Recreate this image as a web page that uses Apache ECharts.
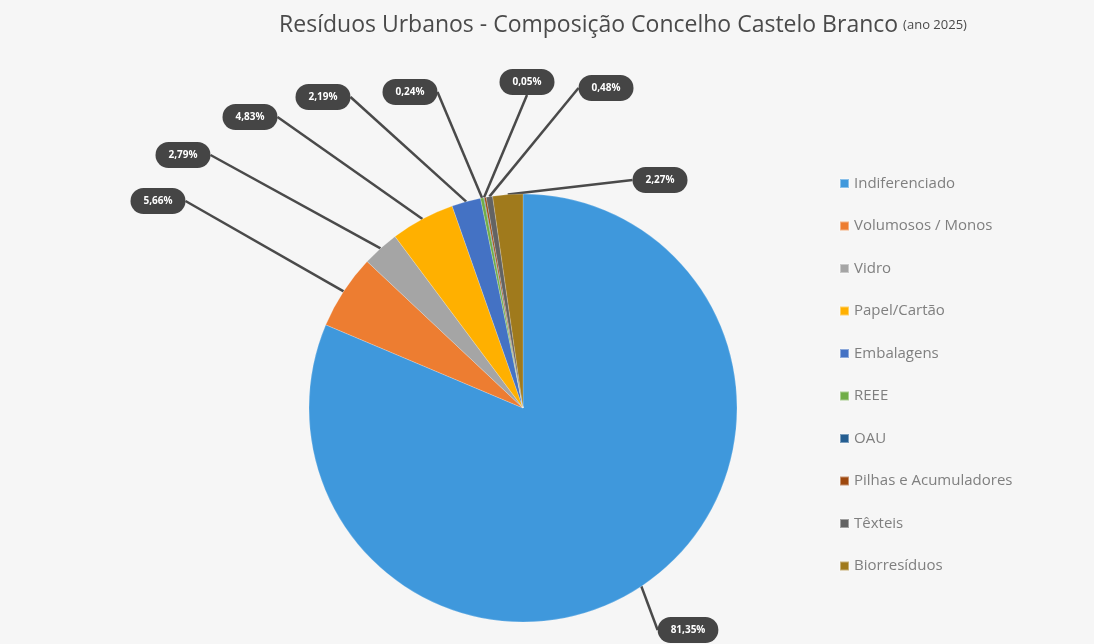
<!DOCTYPE html>
<html>
<head>
<meta charset="utf-8">
<script src="https://cdn.jsdelivr.net/npm/echarts@6/dist/echarts.min.js"></script>
<style>
  html, body { margin: 0; padding: 0; background: #f3f3f3; }
  #chart { width: 1094px; height: 644px; }
</style>
</head>
<body>
<div id="chart"></div>
<script>
// categorias e percentagens (ano 2025)
const categorias = ['Indiferenciado', 'Volumosos / Monos', 'Vidro', 'Papel/Cartão', 'Embalagens', 'REEE', 'OAU', 'Pilhas e Acumuladores', 'Têxteis', 'Biorresíduos']
const percentagens = [81.35, 5.66, 2.79, 4.83, 2.19, 0.24, 0.05, 0.14, 0.48, 2.27]
const mostrarEtiqueta = [true, true, true, true, true, true, true, false, true, true]
const cores = ['#3f98dc', '#ed7d31', '#a5a5a5', '#ffb000', '#4472c4', '#70ad47', '#255e91', '#9e480e', '#636363', '#a07a1c']

// posição das etiquetas (callouts colocados à mão no original)
const posEtiquetas = [[688, 630], [158, 201], [183, 155], [250, 117], [323, 97], [410, 92], [527, 82], [560, 80], [606, 88], [660, 180]]

const myChart = echarts.init(document.getElementById('chart'))

const dados = categorias.map(function (nome, i) {
  return {
    name: nome,
    value: percentagens[i],
    label: { show: mostrarEtiqueta[i] },
    labelLine: { show: mostrarEtiqueta[i] }
  }
})

const option = {
  backgroundColor: '#f6f6f6',
  color: cores,
  title: {
    text: '{t|Resíduos Urbanos - Composição Concelho Castelo Branco} {s|(ano 2025)}',
    left: 618,
    top: 9,
    textAlign: 'center',
    textStyle: {
      fontWeight: 'normal',
      rich: {
        t: { fontFamily: 'Open Sans', fontSize: 23, fontWeight: 'normal', color: '#4a4a4a' },
        s: { fontFamily: 'Open Sans', fontSize: 13, fontWeight: 'normal', color: '#4a4a4a' }
      }
    }
  },
  legend: {
    orient: 'vertical',
    left: 834,
    top: 171,
    itemWidth: 9,
    itemHeight: 9,
    itemGap: 27.5,
    icon: 'rect',
    textStyle: { fontFamily: 'Open Sans', fontSize: 15, color: '#7f7f7f' },
    data: categorias
  },
  series: [
    {
      type: 'pie',
      center: [523, 408],
      radius: 214,
      startAngle: 90,
      clockwise: true,
      avoidLabelOverlap: false,
      itemStyle: { borderColor: 'rgba(255,255,255,0.4)', borderWidth: 0.5 },
      label: {
        show: true,
        formatter: function (p) {
          return p.value.toFixed(2).replace('.', ',') + '%'
        },
        color: '#ffffff',
        fontFamily: 'Open Sans',
        fontSize: 10,
        fontWeight: 'bold',
        backgroundColor: '#454545',
        padding: [8, 13],
        borderRadius: 15
      },
      labelLine: {
        show: true,
        length: 10,
        length2: 0,
        lineStyle: { color: '#4a4a4a', width: 2.5 }
      },
      labelLayout: function (params) {
        const p = posEtiquetas[params.dataIndex]
        return { x: p[0], y: p[1], align: 'center', verticalAlign: 'middle' }
      },
      emphasis: { disabled: true },
      data: dados
    }
  ]
}

myChart.setOption(option)
</script>
</body>
</html>
